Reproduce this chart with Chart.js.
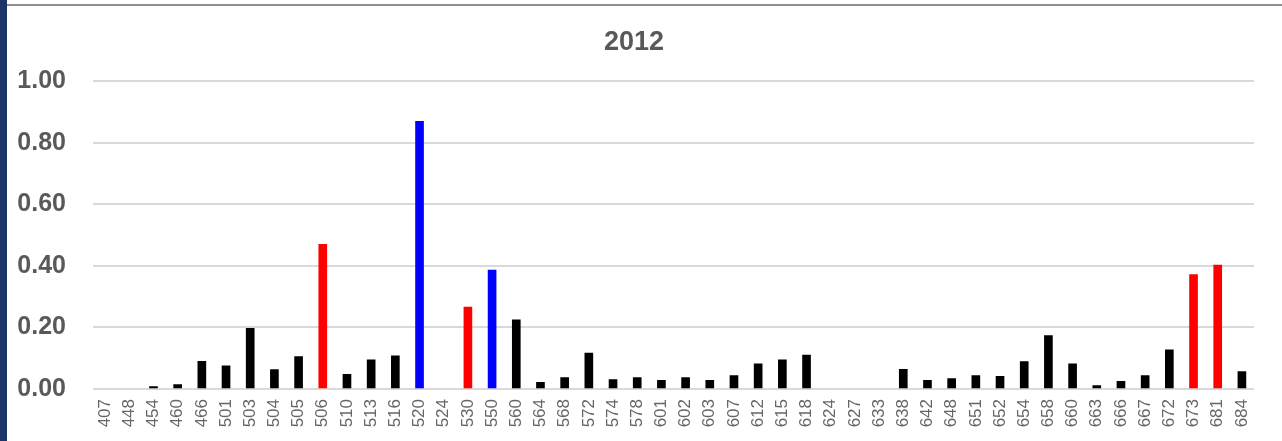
<!DOCTYPE html>
<html>
<head>
<meta charset="utf-8">
<script src="https://cdn.jsdelivr.net/npm/chart.js@4/dist/chart.umd.min.js"></script>
<style>
  html, body { margin: 0; padding: 0; background: #ffffff; overflow: hidden; }
  #leftBorder { position: absolute; left: 0; top: 0; width: 7px; height: 441px; background: #1e3366; }
  #topLine { position: absolute; left: 7px; top: 4px; width: 1275px; height: 2px; background: #8f8f8f; }
  #wrap { position: absolute; left: 7px; top: 0; width: 1275px; height: 441px; }
</style>
</head>
<body>
<div id="leftBorder"></div>
<div id="wrap"><canvas id="c" width="1275" height="441"></canvas></div>
<div id="topLine"></div>
<script>
const chartTitle = '2012';
const categories = ['407','448','454','460','466','501','503','504','505','506','510','513','516','520','524','530','550','560','564','568','572','574','578','601','602','603','607','612','615','618','624','627','633','638','642','648','651','652','654','658','660','663','666','667','672','673','681','684'];
const values = [0, 0, 0.008, 0.014, 0.09, 0.075, 0.197, 0.063, 0.105, 0.47, 0.048, 0.095, 0.108, 0.87, 0, 0.266, 0.387, 0.225, 0.022, 0.037, 0.117, 0.031, 0.037, 0.028, 0.037, 0.028, 0.044, 0.082, 0.095, 0.11, 0, 0, 0, 0.064, 0.028, 0.034, 0.044, 0.041, 0.089, 0.174, 0.082, 0.011, 0.025, 0.044, 0.127, 0.372, 0.403, 0.057];
const redCategories = ['506','530','673','681'];
const blueCategories = ['520','550'];
const yTicks = [0, 0.2, 0.4, 0.6, 0.8, 1.0];

const barColors = categories.map((c, i) => values[i] === 0 ? 'rgba(0,0,0,0)' :
  (redCategories.includes(c) ? '#ff0000' : (blueCategories.includes(c) ? '#0000ff' : '#000000')));

new Chart(document.getElementById('c'), {
  type: 'bar',
  data: {
    labels: categories,
    datasets: [{
      data: values,
      backgroundColor: barColors,
      borderWidth: 0,
      barThickness: 8
    }]
  },
  options: {
    responsive: false,
    animation: false,
    layout: { padding: { left: 7, right: 28, top: 0, bottom: 0 } },
    plugins: {
      legend: { display: false },
      tooltip: { enabled: false },
      title: {
        display: true,
        text: chartTitle,
        color: '#595959',
        font: { family: 'Liberation Sans', size: 27, weight: 'bold', lineHeight: 1.2 },
        padding: { top: 26, bottom: 23 }
      }
    },
    scales: {
      x: {
        grid: { display: false, drawTicks: false },
        border: { display: false },
        ticks: {
          color: '#666666',
          font: { family: 'Liberation Sans', size: 17 },
          minRotation: 90,
          maxRotation: 90,
          autoSkip: false,
          padding: 10
        },
        afterFit: (s) => { s.height = 52; }
      },
      y: {
        min: 0,
        max: 1,
        afterBuildTicks: (s) => { s.ticks = yTicks.map(v => ({ value: v })); },
        grid: { color: '#d9d9d9', lineWidth: 2, drawTicks: false },
        border: { display: false },
        ticks: {
          color: '#595959',
          font: { family: 'Liberation Sans', size: 25, weight: 'bold' },
          padding: 27,
          callback: (v) => Number(v).toFixed(2)
        },
        afterFit: (s) => { s.width = 79; }
      }
    }
  }
});
</script>
</body>
</html>
